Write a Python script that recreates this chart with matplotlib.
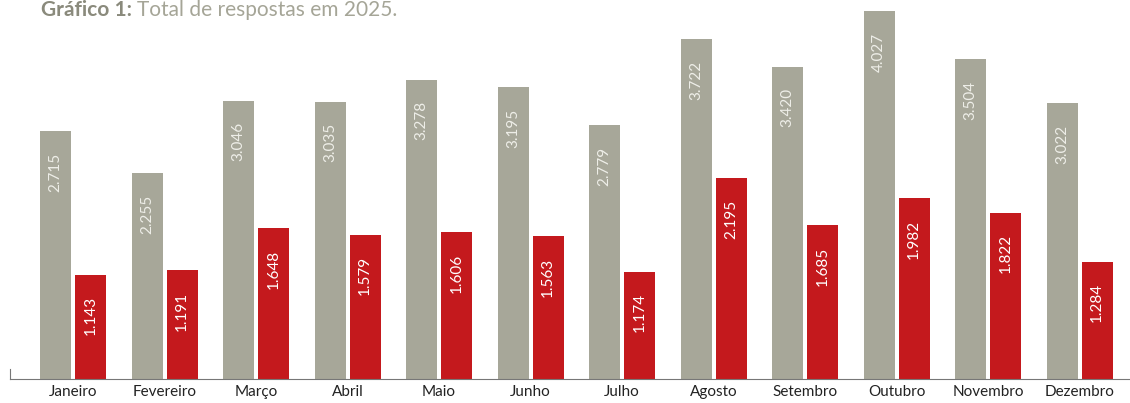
import numpy as np
import matplotlib
matplotlib.use("Agg")
import matplotlib.pyplot as plt

months = ["Janeiro", "Fevereiro", "Março", "Abril", "Maio", "Junho",
          "Julho", "Agosto", "Setembro", "Outubro", "Novembro", "Dezembro"]
total = [2715, 2255, 3046, 3035, 3278, 3195, 2779, 3722, 3420, 4027, 3504, 3022]
other = [1143, 1191, 1648, 1579, 1606, 1563, 1174, 2195, 1685, 1982, 1822, 1284]

GRAY = "#a7a799"
RED = "#c4191d"
plt.rcParams['font.family'] = ['Lato', 'DejaVu Sans']

W, H = 1130, 403
fig = plt.figure(figsize=(W / 100, H / 100), dpi=100)
ax = fig.add_axes([10 / W, 24 / H, 1 - 10 / W, 1 - 24 / H])

x = np.arange(len(months))
w = 0.339
off = 0.191
b1 = ax.bar(x - off, total, w, color=GRAY)
b2 = ax.bar(x + off, other, w, color=RED)

def fmt(v):
    return f"{v:,}".replace(",", ".")

for bars, vals, col in [(b1, total, "#eeeee8"), (b2, other, "white")]:
    for r, v in zip(bars, vals):
        ax.annotate(fmt(v), (r.get_x() + r.get_width() / 2, r.get_height()),
                    xytext=(0, -15.5), textcoords="offset points",
                    rotation=90, ha="center", va="top", color=col, fontsize=11)

ax.set_xlim(-0.689, 11.55)
ax.set_ylim(0, 4149)
ax.set_xticks(x)
ax.set_xticklabels(months, fontsize=11, color="#222222")
ax.tick_params(axis="x", length=0, pad=4)
ax.set_yticks([])
for s in ["top", "right"]:
    ax.spines[s].set_visible(False)
ax.spines["bottom"].set_color("#777777")
ax.spines["left"].set_color("#777777")
ax.spines["left"].set_bounds(0, 110)

t1 = fig.text(41 / W, 1 - 16 / H, "Gráfico 1:", fontsize=15, fontweight="bold",
              color="#8a8a7c", va="baseline", ha="left")
fig.canvas.draw()
bb = t1.get_window_extent()
fig.text((bb.x1 + 5) / W, 1 - 16 / H, "Total de respostas em 2025.", fontsize=15,
         color="#a5a597", va="baseline", ha="left")

fig.savefig("out.png", dpi=100)
